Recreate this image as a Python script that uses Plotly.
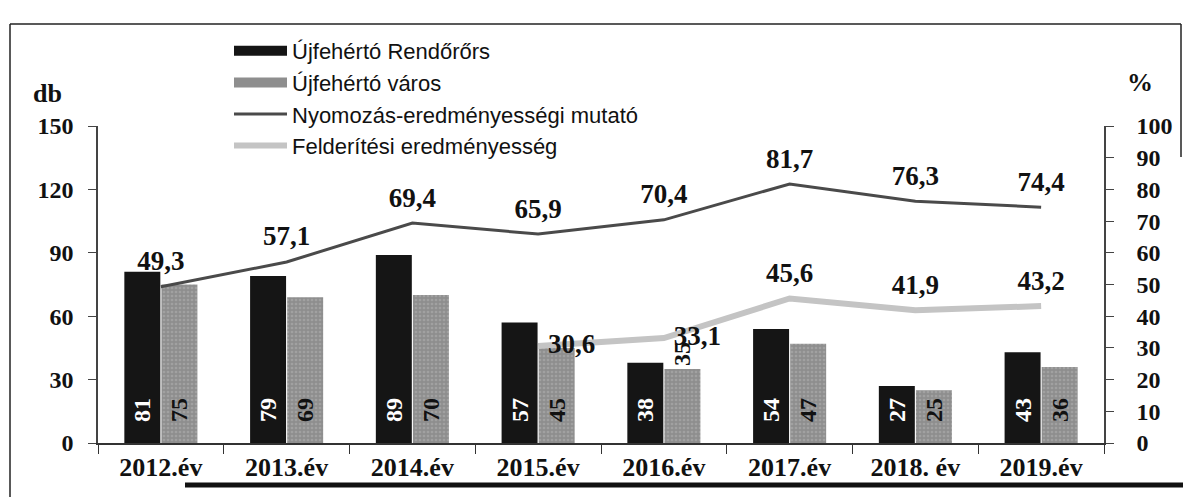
import plotly.graph_objects as go

# Categories and series values
years = ["2012.év", "2013.év", "2014.év", "2015.év", "2016.év", "2017.év", "2018. év", "2019.év"]
rendororse = [81, 79, 89, 57, 38, 54, 27, 43]
varos = [75, 69, 70, 45, 35, 47, 25, 36]
nyomozas = [49.3, 57.1, 69.4, 65.9, 70.4, 81.7, 76.3, 74.4]
felderites = [None, None, None, 30.6, 33.1, 45.6, 41.9, 43.2]

left_ticks = [0, 30, 60, 90, 120, 150]
right_ticks = [0, 10, 20, 30, 40, 50, 60, 70, 80, 90, 100]

W, H = 1183, 497
ML, MR, MT, MB = 98, 79, 126, 54
PW, PH = W - ML - MR, H - MT - MB

SERIF = "Liberation Serif, Times New Roman, serif"
SANS = "Liberation Sans, Arial, sans-serif"
PAD = "\u00a0\u00a0\u00a0"  # lifts the in-bar labels off the baseline


def hu(v):
    return "" if v is None else f"{v:.1f}".replace(".", ",")


def px(x):
    return (x - ML) / PW


def py(y):
    return (H - MB - y) / PH


fig = go.Figure()

# legend entries for the bar series (wide bar swatches)
fig.add_trace(go.Scatter(x=[None], y=[None], mode="lines", name="Újfehértó Rendőrőrs",
                         line=dict(color="#151515", width=12), legendgroup="a"))
fig.add_trace(go.Scatter(x=[None], y=[None], mode="lines", name="Újfehértó város",
                         line=dict(color="#8e8e8e", width=12), legendgroup="b"))

fig.add_trace(go.Bar(
    x=years, y=rendororse, name="Újfehértó Rendőrőrs", showlegend=False,
    marker=dict(color="#151515", line=dict(width=0)),
    text=[PAD + str(v) for v in rendororse], textposition="inside", insidetextanchor="start",
    textangle=-90, textfont=dict(family=SERIF, size=24, color="white", weight="bold"),
    cliponaxis=False,
))
varos_pos = ["inside", "inside", "inside", "inside", "outside", "inside", "inside", "inside"]
fig.add_trace(go.Bar(
    x=years, y=varos, name="Újfehértó város", showlegend=False,
    marker=dict(color="#8e8e8e", line=dict(width=0),
                pattern=dict(shape=".", bgcolor="#8e8e8e", fgcolor="#b4b4b4", size=4, solidity=0.35)),
    text=[(PAD if p == "inside" else "") + str(v) for v, p in zip(varos, varos_pos)],
    textposition=varos_pos,
    insidetextanchor="start",
    textangle=-90, textfont=dict(family=SERIF, size=24, color="#111111", weight="bold"),
    cliponaxis=False,
))

fig.add_trace(go.Scatter(
    x=years, y=nyomozas, yaxis="y2", mode="lines+markers+text", name="Nyomozás-eredményességi mutató",
    line=dict(color="#4a4a4a", width=3), legendgroup="c",
    marker=dict(size=14, color="rgba(0,0,0,0)"),
    text=[hu(v) for v in nyomozas], textposition="top center",
    textfont=dict(family=SERIF, size=27, color="#111111", weight="bold"),
    cliponaxis=False,
))
fig.add_trace(go.Scatter(
    x=years, y=felderites, yaxis="y2", mode="lines+markers+text", name="Felderítési eredményesség",
    line=dict(color="#c4c4c4", width=6), legendgroup="d",
    marker=dict(size=14, color="rgba(0,0,0,0)"),
    text=[hu(v) for v in felderites],
    textposition=["top center"] * 3 + ["middle right", "middle right"] + ["top center"] * 3,
    textfont=dict(family=SERIF, size=27, color="#111111", weight="bold"),
    cliponaxis=False,
))

axis_font = dict(family=SERIF, size=24, color="#111111", weight="bold")

fig.update_layout(
    width=W, height=H,
    margin=dict(l=ML, r=MR, t=MT, b=MB, autoexpand=False),
    paper_bgcolor="white", plot_bgcolor="white",
    barmode="group", bargap=0.41, bargroupgap=0.03,
    showlegend=True,
    uniformtext=dict(minsize=20, mode="show"),
    legend=dict(
        xref="paper", yref="paper", x=px(229), y=py(30),
        xanchor="left", yanchor="top",
        font=dict(family=SANS, size=22, color="#111111"),
        bgcolor="rgba(0,0,0,0)", itemwidth=53, tracegroupgap=4,
        traceorder="normal",
    ),
    xaxis=dict(
        type="category", showline=True, linecolor="#333333", linewidth=2,
        ticks="outside", tickson="boundaries", ticklen=9, tickcolor="#333333",
        tickfont=dict(family=SERIF, size=26, color="#111111", weight="bold"),
        tickangle=0, showgrid=False, zeroline=False,
    ),
    yaxis=dict(
        range=[0, 150], tickvals=left_ticks, showline=True, linecolor="#444444", linewidth=1.5,
        ticks="outside", ticklen=8, tickcolor="#444444", tickfont=axis_font,
        ticklabelstandoff=10, showgrid=False, zeroline=False,
    ),
    yaxis2=dict(
        range=[0, 100], tickvals=right_ticks, overlaying="y", side="right",
        showline=True, linecolor="#444444", linewidth=1.5,
        ticks="outside", ticklen=8, tickcolor="#444444", tickfont=axis_font,
        ticklabelstandoff=18, showgrid=False, zeroline=False,
    ),
    annotations=[
        dict(text="db", xref="paper", yref="paper", x=px(47), y=py(94),
             xanchor="center", yanchor="middle", showarrow=False,
             font=dict(family=SERIF, size=26, color="#111111", weight="bold")),
        dict(text="%", xref="paper", yref="paper", x=px(1140), y=py(82),
             xanchor="center", yanchor="middle", showarrow=False,
             font=dict(family=SERIF, size=26, color="#111111", weight="bold")),
    ],
    shapes=[
        # outer frame
        dict(type="line", xref="paper", yref="paper", x0=px(10), y0=py(24), x1=px(1181), y1=py(24),
             line=dict(color="#222222", width=1.5)),
        dict(type="line", xref="paper", yref="paper", x0=px(10), y0=py(24), x1=px(10), y1=py(497),
             line=dict(color="#222222", width=1.5)),
        dict(type="line", xref="paper", yref="paper", x0=px(1181), y0=py(24), x1=px(1181), y1=py(157),
             line=dict(color="#222222", width=1.5)),
        dict(type="line", xref="paper", yref="paper", x0=px(185), y0=py(485), x1=px(1183), y1=py(485),
             line=dict(color="#111111", width=5)),
    ],
)

fig.write_html("out.html")
